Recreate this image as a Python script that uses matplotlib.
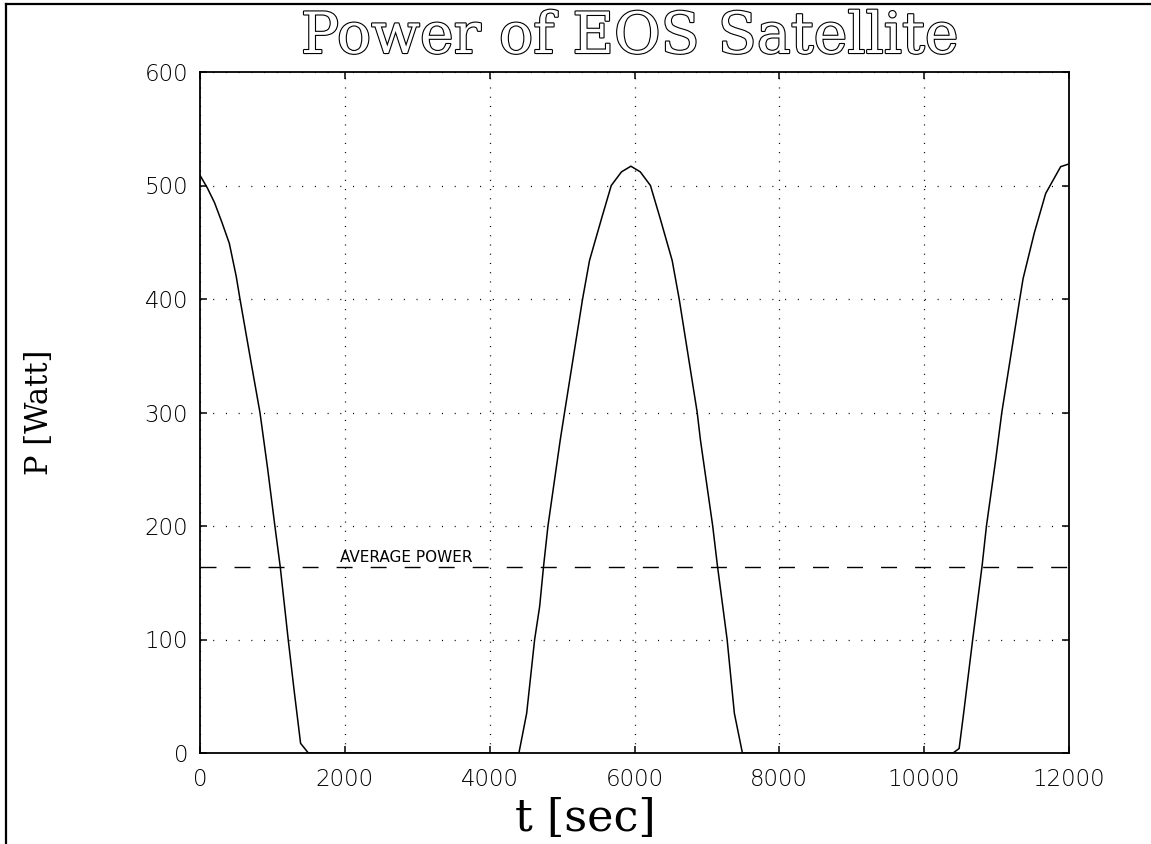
import matplotlib
matplotlib.use("Agg")
import matplotlib.pyplot as plt
import matplotlib.patheffects as pe
from matplotlib.lines import Line2D

plt.rcParams['lines.scale_dashes'] = False

# ---- data ----
t_sec = [0, 100, 200, 300, 405, 500, 552, 700, 828, 935, 1034, 1108, 1218, 1300, 1389, 1496,
         4404, 4511, 4621, 4690, 4745, 4805, 4975, 5034, 5283, 5379, 5550, 5679, 5820, 5950,
         6080, 6220, 6350, 6520, 6617, 6866, 6910, 7080, 7145, 7279, 7379, 7490,
         10400, 10483, 10545, 10670, 10800, 10860, 10989, 11072, 11320, 11366, 11520, 11678,
         11885, 12000]
power_w = [509, 498, 485, 468, 449, 420, 400, 346, 300, 250, 200, 164, 100, 55, 8.5, 0,
           0, 35, 100, 129, 165, 200, 276, 300, 400, 434, 472, 500, 512, 517,
           512, 500, 472, 434, 400, 300, 276, 200, 165, 100, 35, 0,
           0, 4, 35, 100, 165, 200, 259, 300, 400, 418, 458, 493,
           516.6, 519]
avg_power = 164
x_ticks = [0, 2000, 4000, 6000, 8000, 10000, 12000]
y_ticks = [0, 100, 200, 300, 400, 500, 600]

W, H = 1151, 844
fig = plt.figure(figsize=(W / 100, H / 100), dpi=100)
ax = fig.add_axes([200 / W, 1 - 753 / H, 869 / W, 681 / H])

ax.plot(t_sec, power_w, color='black', lw=1.1, solid_joinstyle='miter')
ax.axhline(avg_power, color='black', lw=1.0, linestyle=(0, (11.5, 13)))
ax.text(1930, 168.5, "AVERAGE POWER", fontsize=11, family='DejaVu Sans',
        va='baseline', ha='left', color='black')

ax.set_xlim(x_ticks[0], x_ticks[-1])
ax.set_ylim(y_ticks[0], y_ticks[-1])
ax.set_xticks(x_ticks)
ax.set_yticks(y_ticks)
ax.xaxis.grid(True, color='black', lw=0.9, linestyle=(0, (0.75, 5.9)))
ax.yaxis.grid(True, color='black', lw=0.9, linestyle=(0, (0.75, 8.4)))
ax.set_axisbelow(True)

ax.tick_params(direction='in', top=True, right=True, length=5, width=1.1,
               labelsize=16.5, colors='black')
ax.tick_params(axis='x', pad=11)
ax.tick_params(axis='y', pad=8.5)
for lab in ax.get_xticklabels() + ax.get_yticklabels():
    lab.set_family('DejaVu Sans')
    lab.set_fontweight('light')
for sp in ax.spines.values():
    sp.set_linewidth(1.3)

# title (outlined serif)
fig.text(630 / W, 1 - 53 / H, "Power of EOS Satellite", ha='center', va='baseline',
         fontsize=41, family='DejaVu Serif', color='white',
         path_effects=[pe.Stroke(linewidth=1.6, foreground='black'), pe.Normal()])
# axis labels
fig.text(585 / W, 1 - 831 / H, "t [sec]", ha='center', va='baseline',
         fontsize=32, family='DejaVu Serif', color='black')
fig.text(40 / W, 1 - 412 / H, "P [Watt]", ha='center', va='center', rotation=90,
         fontsize=22, family='DejaVu Serif', color='black')

# page frame lines (top and left)
fig.add_artist(Line2D([6 / W, 1], [1 - 4 / H, 1 - 4 / H], transform=fig.transFigure,
                      color='black', lw=1.6))
fig.add_artist(Line2D([6 / W, 6 / W], [0, 1 - 4 / H], transform=fig.transFigure,
                      color='black', lw=1.6))

fig.savefig("out.png", dpi=100, facecolor='white')
